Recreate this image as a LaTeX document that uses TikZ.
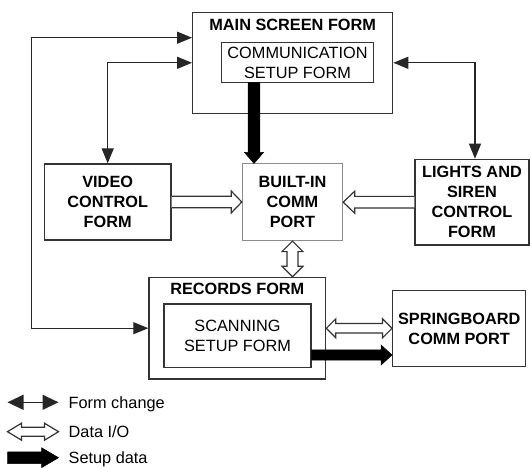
\documentclass[tikz,border=0pt]{standalone}
\usepackage{fontspec}
\setmainfont{Liberation Sans}
\usetikzlibrary{arrows.meta,calc}
\begin{document}
\begin{tikzpicture}[x=1pt,y=-1pt,
  box/.style={draw=black!80, line width=1.3pt, rectangle, inner sep=0pt, align=center,
    font=\fontsize{16.3}{20}\selectfont\bfseries},
  plainbox/.style={box, font=\fontsize{16.3}{20}\selectfont},
  ttl/.style={inner sep=0pt, font=\fontsize{16.3}{20}\selectfont\bfseries},
  legtxt/.style={inner sep=0pt, anchor=base west, font=\fontsize{16.3}{20}\selectfont},
  fc/.style={draw=black!85, line width=1.3pt,
    {Triangle[length=15pt,width=12pt]}-{Triangle[length=15pt,width=12pt]}},
  hollow/.style={draw=black!80, line width=1.2pt, fill=white, line join=miter},
  solidarrow/.style={fill=black, draw=black, line width=0.5pt, line join=miter}]
\useasboundingbox (0,0) rectangle (531,468);

% boxes
\node[box, minimum width=200pt, minimum height=101pt] (main) at (292.7,62.8) {};
\node[ttl] (maint) at (292.7,24.5) {MAIN SCREEN FORM};
\node[plainbox, minimum width=151.6pt, minimum height=40.4pt] (comm) at (297.5,62.5) {COMMUNICATION\\SETUP FORM};
\node[box, minimum width=126.7pt, minimum height=76pt] (video) at (107.7,202) {VIDEO\\CONTROL\\FORM};
\node[box, draw=black!45, line width=1pt, minimum width=100.4pt, minimum height=76.7pt] (builtin) at (292.5,202.3) {BUILT-IN\\COMM\\PORT};
\node[box, minimum width=114pt, minimum height=85.7pt] (lights) at (472,202.2) {LIGHTS AND\\SIREN\\CONTROL\\FORM};
\node[box, minimum width=176.7pt, minimum height=101.7pt] (records) at (237.3,328.2) {};
\node[ttl] (recordst) at (237.3,289.3) {RECORDS FORM};
\node[plainbox, minimum width=147pt, minimum height=63.3pt] (scan) at (237.5,335.7) {SCANNING\\SETUP FORM};
\node[box, minimum width=133pt, minimum height=76pt] (spring) at (459.2,328.7) {SPRINGBOARD\\COMM PORT};

% form change connectors
\coordinate (lc) at (31.7,37.7);
\draw[fc] (main.west |- lc) -- (lc) |- (records.west);
\draw[fc] (main.west) -| (video.north);
\coordinate (rc) at (475,62.8);
\draw[fc] (main.east) -- (rc) -- (rc |- lights.north);

% setup data (solid) main -> builtin
\coordinate (cs) at (254,82.7);
\coordinate (ct) at (cs |- builtin.north);
\draw[solidarrow] ($(cs)+(-5.8,0)$) -- ($(ct)+(-5.8,-11)$) -- ($(ct)+(-9.5,-11)$) -- (ct)
  -- ($(ct)+(9.5,-11)$) -- ($(ct)+(5.8,-11)$) -- ($(cs)+(5.8,0)$) -- cycle;

% data I/O video -> builtin
\coordinate (vb) at (builtin.west |- video.east);
\draw[hollow] ($(video.east)+(0,-5.8)$) -- ($(vb)+(-10.6,-5.8)$) -- ($(vb)+(-10.6,-11)$) -- (vb)
  -- ($(vb)+(-10.6,11)$) -- ($(vb)+(-10.6,5.8)$) -- ($(video.east)+(0,5.8)$);
% data I/O lights -> builtin
\coordinate (lb) at (builtin.east |- lights.west);
\draw[hollow] ($(lights.west)+(0,-5.8)$) -- ($(lb)+(11.5,-5.8)$) -- ($(lb)+(11.5,-11)$) -- (lb)
  -- ($(lb)+(11.5,11)$) -- ($(lb)+(11.5,5.8)$) -- ($(lights.west)+(0,5.8)$);
% data I/O builtin <-> records
\coordinate (bt) at (builtin.south);
\coordinate (rt) at (builtin.south |- records.north);
\draw[hollow] (bt) -- ($(bt)+(10.5,10.5)$) -- ($(bt)+(5.5,10.5)$) -- ($(rt)+(5.5,-10.5)$)
  -- ($(rt)+(10.5,-10.5)$) -- (rt) -- ($(rt)+(-10.5,-10.5)$) -- ($(rt)+(-5.5,-10.5)$)
  -- ($(bt)+(-5.5,10.5)$) -- ($(bt)+(-10.5,10.5)$) -- cycle;
% data I/O records <-> springboard
\coordinate (ra) at (records.east |- 0,328.3);
\coordinate (sa) at (spring.west |- 0,328.3);
\draw[hollow] (ra) -- ($(ra)+(9.5,-9.5)$) -- ($(ra)+(9.5,-4.7)$) -- ($(sa)+(-9.5,-4.7)$)
  -- ($(sa)+(-9.5,-9.5)$) -- (sa) -- ($(sa)+(-9.5,9.5)$) -- ($(sa)+(-9.5,4.7)$)
  -- ($(ra)+(9.5,4.7)$) -- ($(ra)+(9.5,9.5)$) -- cycle;
% setup data scan -> springboard
\coordinate (sc) at (scan.east |- 0,355);
\coordinate (sp) at (spring.west |- 0,355);
\draw[solidarrow] ($(sc)+(0,-5.2)$) -- ($(sp)+(-11,-5.2)$) -- ($(sp)+(-11,-10)$) -- (sp)
  -- ($(sp)+(-11,10)$) -- ($(sp)+(-11,5.2)$) -- ($(sc)+(0,5.2)$) -- cycle;

% legend
\coordinate (l1a) at (7.5,402.3);
\coordinate (l1b) at (58.5,402.3);
\draw[draw=black!85, line width=1.3pt,
  {Triangle[length=16pt,width=15pt]}-{Triangle[length=16pt,width=15pt]}] (l1a) -- (l1b);
\node[legtxt] (leg1) at (68.5,408.2) {Form change};

\coordinate (l2a) at (7.5,431.7);
\coordinate (l2b) at (58.5,431.7);
\draw[hollow] (l2a) -- ($(l2a)+(14,-8.5)$) -- ($(l2a)+(14,-4.5)$) -- ($(l2b)+(-14,-4.5)$)
  -- ($(l2b)+(-14,-8.5)$) -- (l2b) -- ($(l2b)+(-14,8.5)$) -- ($(l2b)+(-14,4.5)$)
  -- ($(l2a)+(14,4.5)$) -- ($(l2a)+(14,8.5)$) -- cycle;
\node[legtxt] (leg2) at (68.5,437.6) {Data I/O};

\coordinate (l3a) at (7.5,457.7);
\coordinate (l3b) at (58.5,457.7);
\draw[solidarrow] ($(l3a)+(0,-5.8)$) -- ($(l3b)+(-17,-5.8)$) -- ($(l3b)+(-17,-10)$) -- (l3b)
  -- ($(l3b)+(-17,10)$) -- ($(l3b)+(-17,5.8)$) -- ($(l3a)+(0,5.8)$) -- cycle;
\node[legtxt] (leg3) at (68.5,463.6) {Setup data};
\end{tikzpicture}
\end{document}
